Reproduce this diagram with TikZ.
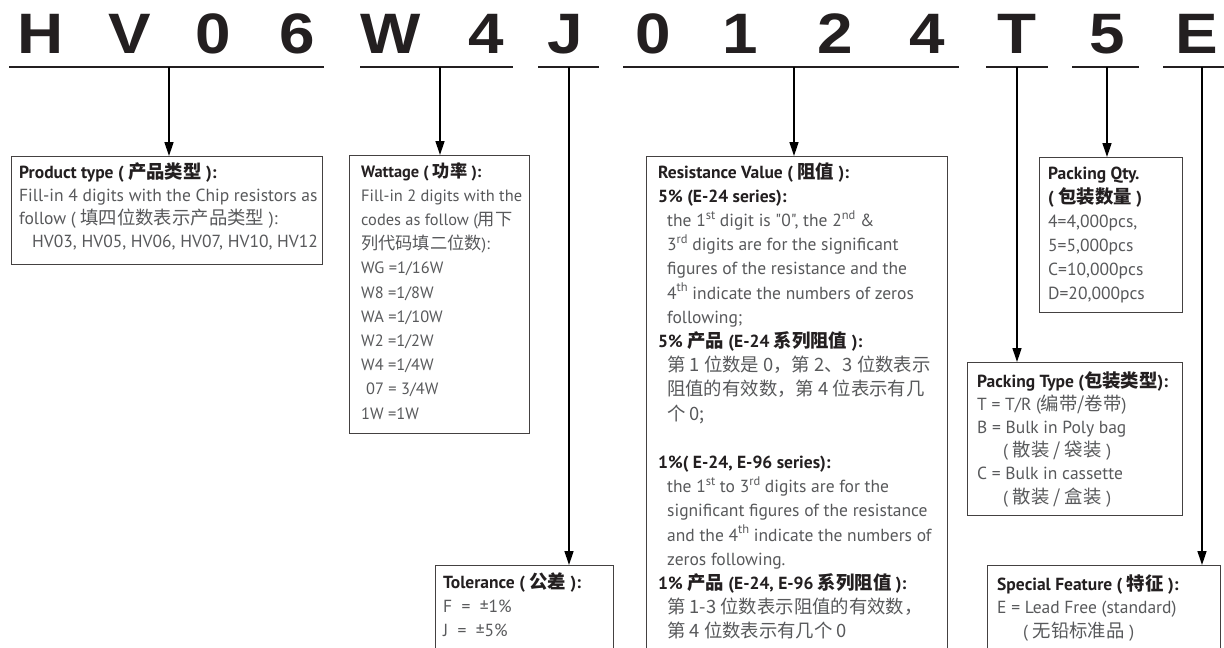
\documentclass[tikz,border=0pt]{standalone}
\usepackage{graphicx}
\usepackage{fontspec}
\setmainfont{PT Sans}[Ligatures=TeXOff]
\newfontfamily\cjk{Noto Sans CJK SC}[Scale=1.05]
\newfontfamily\bigfont{Liberation Sans}
\usetikzlibrary{arrows.meta}
\definecolor{ink}{HTML}{231F20}
\definecolor{body}{HTML}{58595B}
\newcommand{\zh}[1]{{\cjk #1}}
\newcommand{\ind}{\hspace*{9pt}}
\newcommand{\ttl}[1]{{\color{ink}\bfseries #1}}
\newcommand{\sups}[1]{\raisebox{0.42em}{\fontsize{12.5}{12}\selectfont #1}}
\tikzset{
  letter/.style={anchor=base, inner sep=0pt, text=ink, font=\bigfont\bfseries\fontsize{57}{57}\selectfont},
  uline/.style={draw=ink, line width=1.2pt},
  arr/.style={draw=black, line width=1.4pt, -{Triangle[width=9pt,length=14pt]}},
  boxframe/.style={draw=ink!85, line width=1pt, inner sep=0pt, anchor=north west},
  txt/.style={anchor=base west, inner sep=0pt, align=left, text=body},
}
\begin{document}
\begin{tikzpicture}[x=1pt,y=-1pt]
\useasboundingbox (0,0) rectangle (1224,648);
\clip (0,0) rectangle (1224,648);
\fill[white] (0,0) rectangle (1224,648);
% header letters
\foreach \n/\x/\c in {1/41/H,2/130/V,3/213/0,4/297/6,5/391/W,6/486/4,7/565/J,8/653/0,9/740/1,10/835/2,11/927/4,12/1017/T,13/1107/5,14/1197/E}
  \node[letter] (L\n) at (\x,53) {\scalebox{1.12}[1]{\c}};
% underline coordinates
\coordinate (u1a) at (9,67);   \coordinate (u1b) at (324,67);  \coordinate (u1t) at (169,67);
\coordinate (u2a) at (360,67); \coordinate (u2b) at (513,67);  \coordinate (u2t) at (440,67);
\coordinate (u3a) at (538,67); \coordinate (u3b) at (599,67);  \coordinate (u3t) at (569,67);
\coordinate (u4a) at (623,67); \coordinate (u4b) at (959,67);  \coordinate (u4t) at (794,67);
\coordinate (u5a) at (986,67); \coordinate (u5b) at (1048,67); \coordinate (u5t) at (1017,67);
\coordinate (u6a) at (1072,67);\coordinate (u6b) at (1139,67); \coordinate (u6t) at (1107,67);
\coordinate (u7a) at (1163,67);\coordinate (u7b) at (1230,67); \coordinate (u7t) at (1202,67);
\foreach \i in {1,...,7} \draw[uline] (u\i a) -- (u\i b);
% boxes
\node[boxframe, minimum width=311pt, minimum height=108pt] (prod) at (11,156) {};
\node[boxframe, minimum width=180pt, minimum height=278pt] (watt) at (349,155) {};
\node[boxframe, minimum width=301pt, minimum height=560pt] (res) at (646,156) {};
\node[boxframe, minimum width=143pt, minimum height=155pt] (qty) at (1039,157) {};
\node[boxframe, minimum width=215pt, minimum height=153pt] (ptype) at (967,362) {};
\node[boxframe, minimum width=233pt, minimum height=140pt] (spec) at (987,565) {};
\node[boxframe, minimum width=178pt, minimum height=140pt] (tol) at (435,565) {};
% arrows
\draw[arr] (u1t) -- (u1t |- prod.north);
\draw[arr] (u2t) -- (u2t |- watt.north);
\draw[arr] (u3t) -- (u3t |- tol.north);
\draw[arr] (u4t) -- (u4t |- res.north);
\draw[arr] (u5t) -- (u5t |- ptype.north);
\draw[arr] (u6t) -- (u6t |- qty.north);
\draw[arr] (u7t) -- (u7t |- spec.north);
% texts (anchored at the baseline of their last line)
\node[txt, font=\fontsize{17.5}{23}\selectfont] (tprod) at (19,247) {%
\ttl{Product type ( \zh{产品类型} ):}\\
Fill-in 4 digits with the Chip resistors as\\
follow ( \zh{填四位数表示产品类型} ):\\
\hspace*{13pt}HV03, HV05, HV06, HV07, HV10, HV12};
\node[txt, font=\fontsize{16.4}{24.2}\selectfont] (twatt) at (361,419) {%
\ttl{Wattage ( \zh{功率} ):}\\
Fill-in 2 digits with the\\
codes as follow (\zh{用下}\\
\zh{列代码填二位数}):\\
WG =1/16W\\
W8 =1/8W\\
WA =1/10W\\
W2 =1/2W\\
W4 =1/4W\\
\hspace*{5pt}07 = 3/4W\\
1W =1W};
\node[txt, font=\fontsize{17.5}{24.2}\selectfont] (tres) at (658,637.8) {%
\ttl{Resistance Value ( \zh{阻值} ):}\\
\ttl{5\% (E-24 series):}\\
\ind the 1\sups{st} digit is "0", the 2\sups{nd} \&\\
\ind 3\sups{rd} digits are for the significant\\
\ind figures of the resistance and the\\
\ind 4\sups{th} indicate the numbers of zeros\\
\ind following;\\
\ttl{5\% \zh{产品} (E-24 \zh{系列阻值} ):}\\
\ind\zh{第 1 位数是 0，第 2、3 位数表示}\\
\ind\zh{阻值的有效数，第 4 位表示有几}\\
\ind\zh{个 0;}\\
\mbox{}\\
\ttl{1\%( E-24, E-96 series):}\\
\ind the 1\sups{st} to 3\sups{rd} digits are for the\\
\ind significant figures of the resistance\\
\ind and the 4\sups{th} indicate the numbers of\\
\ind zeros following.\\
\ttl{1\% \zh{产品} (E-24, E-96 \zh{系列阻值} ):}\\
\ind\zh{第 1-3 位数表示阻值的有效数，}\\
\ind\zh{第 4 位数表示有几个 0}};
\node[txt, font=\fontsize{17.5}{24}\selectfont] (tqty) at (1048,299) {%
\ttl{Packing Qty.}\\
\ttl{( \zh{包装数量} )}\\
4=4,000pcs,\\
5=5,000pcs\\
C=10,000pcs\\
D=20,000pcs};
\node[txt, font=\fontsize{17.5}{23.2}\selectfont] (tptype) at (977,503) {%
\ttl{Packing Type (\zh{包装类型}):}\\
T = T/R (\zh{编带/卷带})\\
B = Bulk in Poly bag\\
\hspace*{26pt}( \zh{散装 / 袋装} )\\
C = Bulk in cassette\\
\hspace*{26pt}( \zh{散装 / 盒装} )};
\node[txt, font=\fontsize{17.5}{23.5}\selectfont] (tspec) at (997,637) {%
\ttl{Special Feature ( \zh{特征} ):}\\
E = Lead Free (standard)\\
\hspace*{26pt}( \zh{无铅标准品} )};
\node[txt, font=\fontsize{17.5}{24}\selectfont] (ttol) at (443,636) {%
\ttl{Tolerance ( \zh{公差} ):}\\
F \ = \ ±1\%\\
J \ = \ ±5\%};
\end{tikzpicture}
\end{document}
